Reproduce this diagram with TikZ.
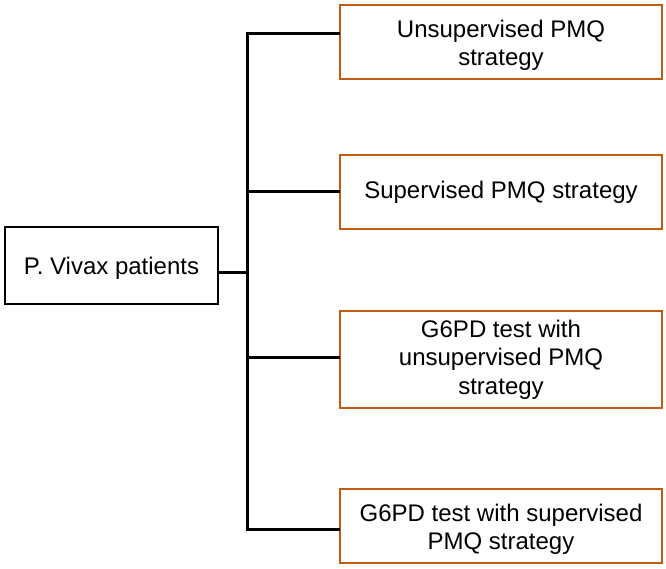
\documentclass[tikz,border=0pt]{standalone}
\usepackage{fontspec}
\setmainfont{Liberation Sans}
\definecolor{boxorange}{RGB}{197,90,17}
\begin{document}
\begin{tikzpicture}[x=1pt,y=-1pt,
  every node/.style={font=\fontsize{24}{28.5}\selectfont, align=center, inner sep=0pt},
  pvbox/.style={draw=black, line width=2pt, minimum width=213pt, minimum height=76pt},
  stratbox/.style={draw=boxorange, line width=2.5pt, minimum width=322pt},
  link/.style={line width=3pt, line cap=rect}]
\useasboundingbox (0,0) rectangle (666,569);
\node[pvbox] (pv) at (111.5,265.5) {};
\node (pvtext) at (111.5,268.5) {P. Vivax patients};
\node[stratbox, minimum height=74pt] (s1) at (501,42) {};
\node (s1text) at (501,45.5) {Unsupervised PMQ\\strategy};
\node[stratbox, minimum height=74pt] (s2) at (501,192) {Supervised PMQ strategy};
\node[stratbox, minimum height=97pt] (s3) at (501,359.5) {G6PD test with\\unsupervised PMQ\\strategy};
\node[stratbox, minimum height=74pt] (s4) at (501,526) {};
\node (s4text) at (501,529.5) {G6PD test with supervised\\PMQ strategy};
\coordinate (t1) at (247,34);
\coordinate (t2) at (247,192);
\coordinate (j) at (247,272);
\coordinate (t3) at (247,357);
\coordinate (t4) at (247,529);
\draw[link] (t1) -- (t4);
\draw[link] (pv.east |- j) -- (j);
\draw[link] (t1) -- (t1 -| s1.west);
\draw[link] (t2) -- (t2 -| s2.west);
\draw[link] (t3) -- (t3 -| s3.west);
\draw[link] (t4) -- (t4 -| s4.west);
\end{tikzpicture}
\end{document}
